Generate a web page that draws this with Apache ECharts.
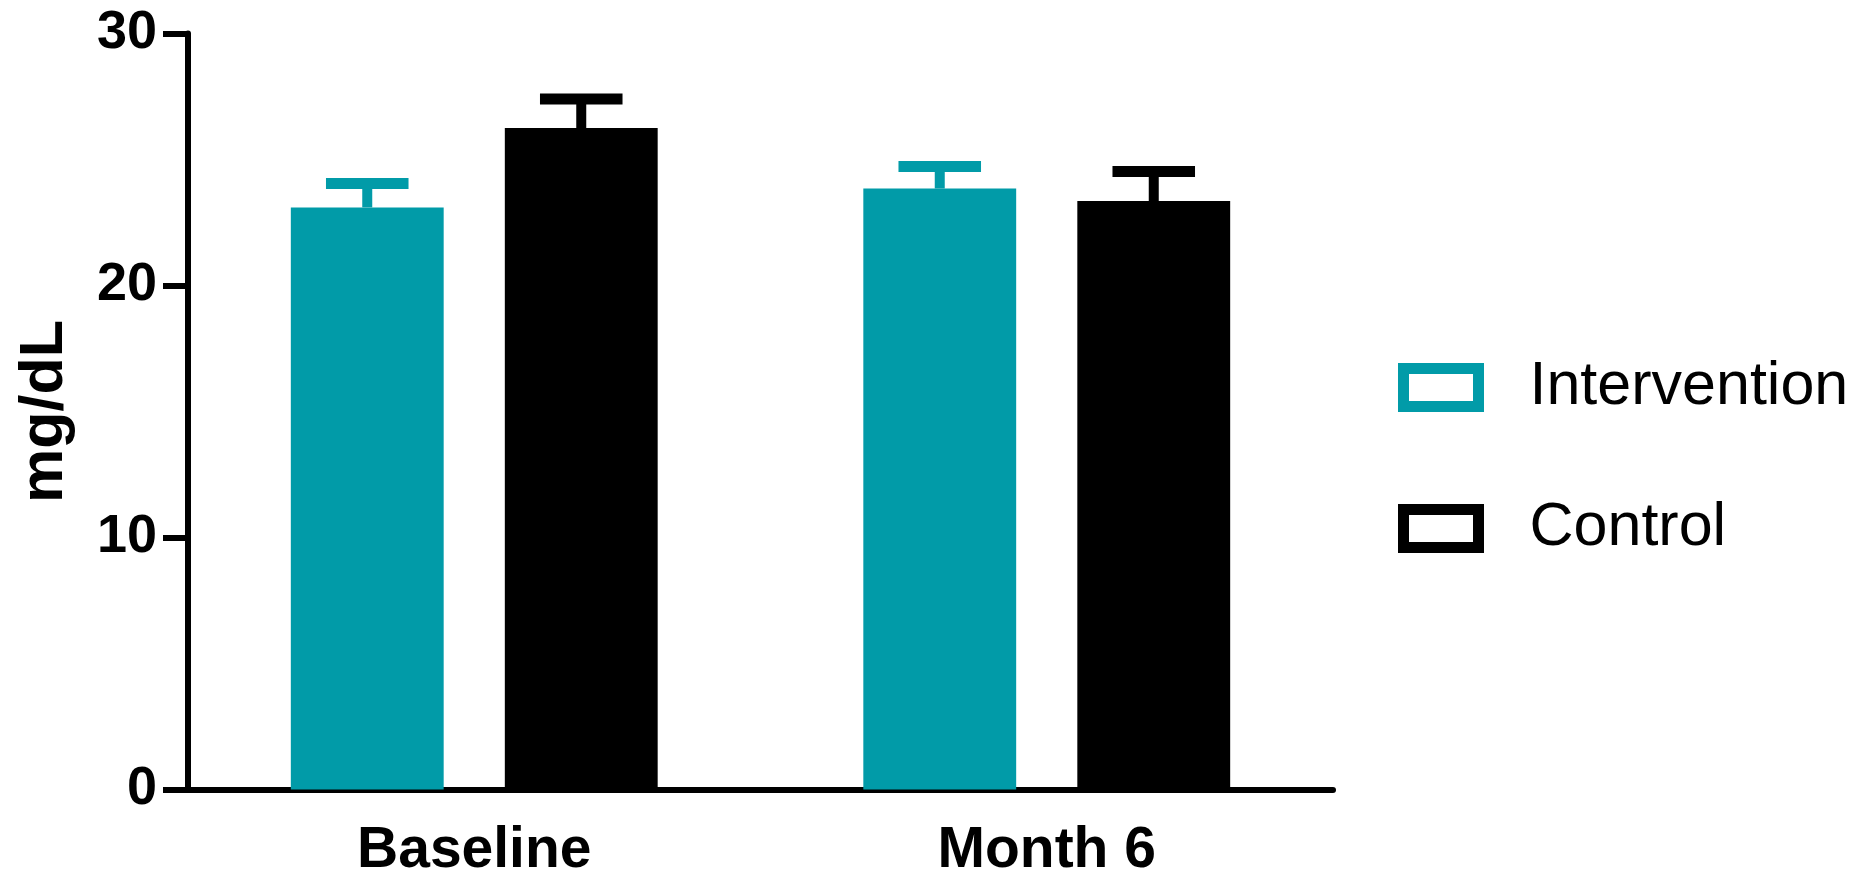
<!DOCTYPE html>
<html>
<head>
<meta charset="utf-8">
<script src="https://cdn.jsdelivr.net/npm/echarts@6/dist/echarts.min.js"></script>
<style>
  html, body { margin: 0; padding: 0; background: #fff; }
  #chart { width: 1865px; height: 871px; }
</style>
</head>
<body>
<div id="chart"></div>
<script>
// data (mean and SEM, mg/dL)
const categories = ['Baseline', 'Month 6'];
const seriesNames = ['Intervention', 'Control'];
const interventionMean = [23.1, 23.85];
const interventionSem = [0.95, 0.87];
const controlMean = [26.25, 23.35];
const controlSem = [1.15, 1.17];
const yTicks = { min: 0, max: 30, interval: 10 };

const TEAL = '#019ba8';
const FONT = '"Liberation Sans", Arial, sans-serif';
const BAR_PCT = 0.267;
const BAR_GAP = 0.4;

const myChart = echarts.init(document.getElementById('chart'));

// error bar drawn above each bar, shifted to the bar's slot in the band
function errorBar(sign, color) {
    return function (params, api) {
        const cat = api.value(0);
        const mean = api.value(1);
        const sem = api.value(2);
        const band = api.size([1, 0])[0];
        const bw = band * BAR_PCT;
        const dx = sign * (bw + bw * BAR_GAP) / 2;
        const base = api.coord([cat, mean]);
        const top = api.coord([cat, mean + sem]);
        const x = base[0] + dx;
        const capHalf = bw * 0.27;
        return {
            type: 'group',
            children: [
                { type: 'line', shape: { x1: x, y1: base[1], x2: x, y2: top[1] },
                  style: { stroke: color, lineWidth: 10 } },
                { type: 'line', shape: { x1: x - capHalf, y1: top[1], x2: x + capHalf, y2: top[1] },
                  style: { stroke: color, lineWidth: 11 } }
            ]
        };
    };
}

function errData(mean, sem) {
    return categories.map((c, i) => [i, mean[i], sem[i]]);
}

const option = {
    animation: false,
    grid: {
        left: 188, right: 532, top: 33.5, bottom: 81.5,
        containLabel: false,
        outerBoundsMode: 'none'
    },
    legend: {
        orient: 'vertical',
        left: 1398,
        top: 357,
        padding: 0,
        icon: 'rect',
        itemWidth: 75,
        itemHeight: 38,
        itemGap: 80,
        textStyle: { fontFamily: FONT, fontSize: 61, color: '#000', lineHeight: 60, padding: [0, 0, 0, 46] },
        data: [
            { name: seriesNames[0], itemStyle: { color: '#fff', borderColor: TEAL, borderWidth: 11 } },
            { name: seriesNames[1], itemStyle: { color: '#fff', borderColor: '#000', borderWidth: 11 } }
        ]
    },
    xAxis: {
        type: 'category',
        data: categories,
        axisLine: { lineStyle: { color: '#000', width: 6 } },
        axisTick: { alignWithLabel: true, length: 25, lineStyle: { color: '#000', width: 6 } },
        axisLabel: { color: '#000', fontFamily: FONT, fontWeight: 'bold', fontSize: 57, margin: 33 },
        splitLine: { show: false }
    },
    yAxis: {
        type: 'value',
        min: yTicks.min,
        max: yTicks.max,
        interval: yTicks.interval,
        name: 'mg/dL',
        nameLocation: 'middle',
        nameRotate: 90,
        nameGap: 112,
        nameTextStyle: { color: '#000', fontFamily: FONT, fontWeight: 'bold', fontSize: 61 },
        axisLine: { show: true, lineStyle: { color: '#000', width: 6 } },
        axisTick: { show: true, length: 25, lineStyle: { color: '#000', width: 6 } },
        axisLabel: { color: '#000', fontFamily: FONT, fontWeight: 'bold', fontSize: 54, margin: 31 },
        splitLine: { show: false }
    },
    series: [
        {
            name: seriesNames[0],
            type: 'bar',
            data: interventionMean,
            barWidth: (BAR_PCT * 100) + '%',
            barGap: (BAR_GAP * 100) + '%',
            itemStyle: { color: TEAL }
        },
        {
            name: seriesNames[1],
            type: 'bar',
            data: controlMean,
            barWidth: (BAR_PCT * 100) + '%',
            barGap: (BAR_GAP * 100) + '%',
            itemStyle: { color: '#000' }
        },
        {
            type: 'custom',
            name: 'intervention-sem',
            renderItem: errorBar(-1, TEAL),
            encode: { x: 0, y: 1 },
            data: errData(interventionMean, interventionSem),
            z: 3
        },
        {
            type: 'custom',
            name: 'control-sem',
            renderItem: errorBar(1, '#000'),
            encode: { x: 0, y: 1 },
            data: errData(controlMean, controlSem),
            z: 3
        }
    ]
};

myChart.setOption(option);
</script>
</body>
</html>
